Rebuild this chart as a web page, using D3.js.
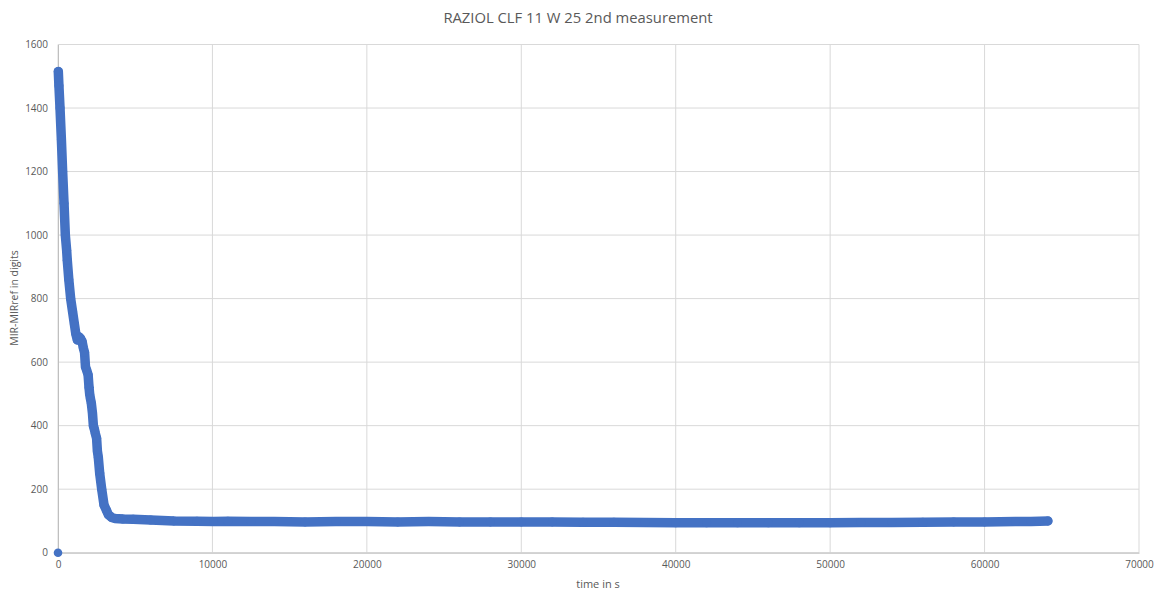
<!DOCTYPE html>
<html>
<head>
<meta charset="utf-8">
<script src="https://cdn.jsdelivr.net/npm/d3@7"></script>
<style>
  html, body { margin: 0; padding: 0; background: #fff; }
  svg { display: block; }
  text { font-family: "Open Sans", "Liberation Sans", sans-serif; fill: #595959; }
</style>
</head>
<body>
<svg id="chart" width="1158" height="590"></svg>
<script>
// ---- data ----
const chartTitle = "RAZIOL CLF 11 W 25 2nd measurement";
const xAxisTitle = "time in s";
const yAxisTitle = "MIR-MIRref in digits";
const xTicks = [0, 10000, 20000, 30000, 40000, 50000, 60000, 70000];
const yTicks = [0, 200, 400, 600, 800, 1000, 1200, 1400, 1600];

// isolated outlier point
const outlierTime = [0];
const outlierValue = [0];

// main measurement series (time in s, MIR-MIRref in digits)
const timeS = [
  20, 60, 130, 220, 300, 390, 475, 560, 600, 700, 820, 940, 1060, 1150, 1250,
  1350, 1450, 1560, 1640, 1720, 1780, 1855, 1950, 2010, 2050, 2100, 2160, 2230,
  2290, 2350, 2420, 2500, 2550, 2610, 2700, 2830, 2980, 3150, 3260, 3475, 3690,
  4200, 4870, 6000, 7500, 9000, 10070, 11000, 12500, 14000, 16000, 18000, 20000,
  22000, 24000, 26000, 28000, 30000, 32000, 34000, 36000, 38000, 40000, 42000,
  44000, 46000, 48000, 50000, 52000, 54000, 56000, 58000, 60000, 62000, 63000, 64100
];
const mirValue = [
  1515, 1470, 1400, 1300, 1200, 1100, 1000, 952, 921, 860, 800, 760, 720, 690, 670,
  680, 675, 665, 645, 630, 585, 575, 560, 520, 500, 485, 470, 440,
  400, 390, 375, 360, 320, 300, 250, 200, 150, 132, 120, 111, 108,
  106, 105, 103, 100, 99, 98, 99, 98, 98, 97, 98, 98,
  97, 98, 97, 97, 97, 97, 96, 96, 95, 94, 94,
  94, 94, 94, 94, 95, 95, 96, 97, 97, 98, 98, 100
];

// ---- layout ----
const W = 1158, H = 590;
const plot = { left: 58, right: 1139, top: 44.5, bottom: 552.7 };
const blue = "#4472C4";
const grid = "#d9d9d9";

const svg = d3.select("#chart");
svg.append("rect").attr("width", W).attr("height", H).attr("fill", "#fff");

const x = d3.scaleLinear().domain([0, 70000]).range([plot.left, plot.right]);
const y = d3.scaleLinear().domain([0, 1600]).range([plot.bottom, plot.top]);

// gridlines
svg.append("g").selectAll("line.h").data(yTicks).join("line")
  .attr("x1", plot.left).attr("x2", plot.right)
  .attr("y1", d => y(d)).attr("y2", d => y(d))
  .attr("stroke", grid).attr("stroke-width", 1);
svg.append("g").selectAll("line.v").data(xTicks).join("line")
  .attr("y1", plot.top).attr("y2", plot.bottom)
  .attr("x1", d => x(d)).attr("x2", d => x(d))
  .attr("stroke", grid).attr("stroke-width", 1);

// axes via d3 axis generators (labels only, Excel style)
const yAxis = svg.append("g")
  .attr("transform", `translate(${plot.left},0)`)
  .call(d3.axisLeft(y).tickValues(yTicks).tickSize(0).tickPadding(10).tickFormat(d3.format("d")));
yAxis.select(".domain").attr("stroke", "#bfbfbf");
yAxis.selectAll("text").style("font-size", "10px").attr("fill", "#595959")
  .style("font-family", "'Open Sans', 'Liberation Sans', sans-serif");

const xAxis = svg.append("g")
  .attr("transform", `translate(0,${plot.bottom})`)
  .call(d3.axisBottom(x).tickValues(xTicks).tickSize(0).tickPadding(8).tickFormat(d3.format("d")));
xAxis.select(".domain").attr("stroke", "#bfbfbf");
xAxis.selectAll("text").style("font-size", "10px").attr("fill", "#595959")
  .style("font-family", "'Open Sans', 'Liberation Sans', sans-serif");

// data
const pts = timeS.map((t, i) => ({ t, v: mirValue[i] }));
const line = d3.line().x(d => x(d.t)).y(d => y(d.v));
svg.append("path").datum(pts)
  .attr("d", line)
  .attr("fill", "none").attr("stroke", blue)
  .attr("stroke-width", 9.5).attr("stroke-linejoin", "round").attr("stroke-linecap", "round");
svg.append("g").selectAll("circle.m").data(pts).join("circle")
  .attr("cx", d => x(d.t)).attr("cy", d => y(d.v)).attr("r", 4.5).attr("fill", blue);

const outl = outlierTime.map((t, i) => ({ t, v: outlierValue[i] }));
svg.append("g").selectAll("circle.o").data(outl).join("circle")
  .attr("cx", d => x(d.t)).attr("cy", d => y(d.v)).attr("r", 4.3).attr("fill", blue);

// titles
svg.append("text").attr("x", 578).attr("y", 23).attr("text-anchor", "middle")
  .style("font-size", "14.8px").text(chartTitle);
svg.append("text").attr("x", 598).attr("y", 588).attr("text-anchor", "middle")
  .style("font-size", "11px").text(xAxisTitle);
svg.append("text").attr("transform", "translate(18,298) rotate(-90)").attr("text-anchor", "middle")
  .style("font-size", "10.5px").text(yAxisTitle);
</script>
</body>
</html>
